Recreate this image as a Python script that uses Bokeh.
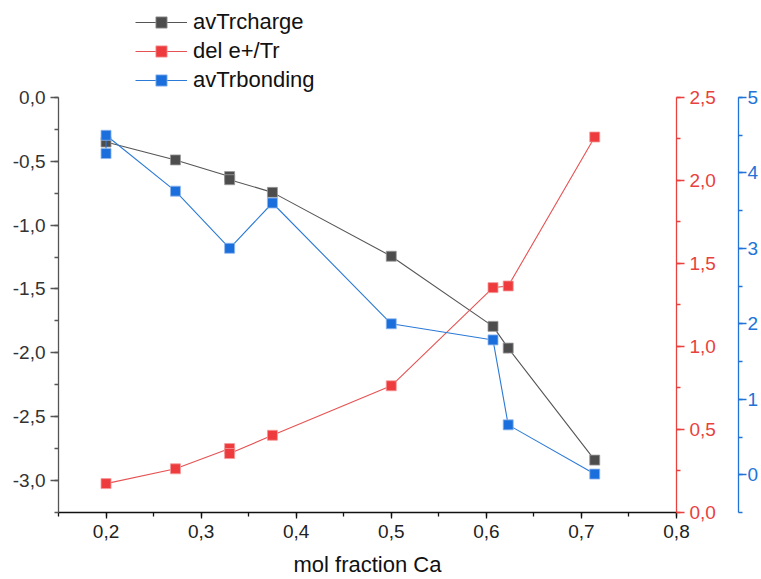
from bokeh.plotting import figure
from bokeh.models import (Range1d, LinearAxis, SingleIntervalTicker, CustomJSTickFormatter,
                          Legend, LegendItem)
from bokeh.embed import file_html
from bokeh.resources import INLINE

# ---- data ----
x_charge = [0.2, 0.273, 0.33, 0.33, 0.375, 0.5, 0.607, 0.623, 0.714]
avTrcharge = [-0.35, -0.49, -0.62, -0.645, -0.744, -1.244, -1.793, -1.963, -2.84]

x_dele = [0.2, 0.273, 0.33, 0.33, 0.375, 0.5, 0.607, 0.623, 0.714]
del_e_Tr = [0.174, 0.263, 0.385, 0.355, 0.465, 0.763, 1.354, 1.364, 2.261]

x_bond = [0.2, 0.2, 0.273, 0.33, 0.375, 0.5, 0.607, 0.623, 0.714]
avTrbonding = [4.255, 4.497, 3.757, 3.0, 3.60, 2.0, 1.786, 0.661, 0.009]

x_label = "mol fraction Ca"
names = ["avTrcharge", "del e+/Tr", "avTrbonding"]

# axis extents (the axes are drawn only over these bounds)
left_bounds = (-3.25, 0.0)
red_bounds = (0.0, 2.5)
blue_bounds = (-0.5, 5.0)

FONT = "Liberation Sans"
C_BLACK = "#4d4d4d"
C_RED = "#ee3b3d"
C_BLUE = "#1b6fdc"
C_RED_AX = "#e8413e"
C_BLUE_AX = "#2173d6"

# frame spans canvas y 5..513; axes occupy 97..513 (room above for the legend)
FRAME_TOP, AXIS_TOP, FRAME_BOTTOM = 5, 97, 513
ext = (FRAME_BOTTOM - FRAME_TOP) / (FRAME_BOTTOM - AXIS_TOP)


def extended(b):
    return Range1d(b[0], b[0] + (b[1] - b[0]) * ext)


p = figure(width=761, height=579, output_backend="svg", toolbar_location=None,
           x_range=Range1d(0.15, 0.8), y_range=extended(left_bounds),
           min_border_left=58, min_border_top=FRAME_TOP, min_border_bottom=66, min_border_right=5)
p.extra_y_ranges = {"red": extended(red_bounds), "blue": extended(blue_bounds)}
p.xgrid.visible = False
p.ygrid.visible = False
p.outline_line_color = None
p.background_fill_color = "white"

comma1 = CustomJSTickFormatter(code="return tick.toFixed(1).replace('.', ',');")
comma0 = CustomJSTickFormatter(code="return tick.toFixed(0);")


def style_axis(ax, color, label_color):
    ax.axis_line_color = color
    ax.major_tick_line_color = color
    ax.minor_tick_line_color = color
    ax.major_label_text_color = label_color
    ax.major_label_text_font = FONT
    ax.major_label_text_font_size = "19px"
    ax.major_tick_out = 8
    ax.major_tick_in = 0
    ax.minor_tick_out = 4
    ax.minor_tick_in = 0
    ax.axis_line_width = 1.3
    ax.major_tick_line_width = 1.3
    ax.minor_tick_line_width = 1.3
    ax.major_label_standoff = 5


# x axis
xa = p.xaxis[0]
xa.ticker = SingleIntervalTicker(interval=0.1, num_minor_ticks=2)
xa.formatter = comma1
style_axis(xa, "#111111", "#222222")
xa.major_tick_out = 6
xa.major_label_standoff = 6
xa.axis_label = x_label
xa.axis_label_text_font = FONT
xa.axis_label_text_font_style = "normal"
xa.axis_label_text_font_size = "22px"
xa.axis_label_text_color = "#111111"
xa.axis_label_standoff = 11

# left axis
ya = p.yaxis[0]
ya.ticker = SingleIntervalTicker(interval=0.5, num_minor_ticks=2)
ya.formatter = comma1
ya.bounds = left_bounds
style_axis(ya, "#555555", "#333333")

# red right axis
ra = LinearAxis(y_range_name="red", ticker=SingleIntervalTicker(interval=0.5, num_minor_ticks=2),
                formatter=comma1, bounds=red_bounds)
style_axis(ra, C_RED_AX, C_RED_AX)
ra.axis_label = " "
ra.axis_label_text_font_size = "16px"
ra.axis_label_standoff = 0
p.add_layout(ra, "right")

# blue right axis
ba = LinearAxis(y_range_name="blue", ticker=SingleIntervalTicker(interval=1, num_minor_ticks=2),
                formatter=comma0, bounds=blue_bounds)
style_axis(ba, C_BLUE_AX, C_BLUE_AX)
ba.major_label_standoff = 1
p.add_layout(ba, "right")

# series
l1 = p.line(x_charge, avTrcharge, line_color="#555555", line_width=1.1)
s1 = p.scatter(x_charge, avTrcharge, marker="square", size=10, fill_color=C_BLACK,
               line_color="#9a9a9a", line_width=0.8)

l2 = p.line(x_dele, del_e_Tr, line_color="#e65253", line_width=1.1, y_range_name="red")
s2 = p.scatter(x_dele, del_e_Tr, marker="square", size=10, fill_color=C_RED,
               line_color="#f59a9a", line_width=0.8, y_range_name="red")

l3 = p.line(x_bond, avTrbonding, line_color="#2b7ad6", line_width=1.1, y_range_name="blue")
s3 = p.scatter(x_bond, avTrbonding, marker="square", size=10, fill_color=C_BLUE,
               line_color="#8fb8ee", line_width=0.8, y_range_name="blue")

legend = Legend(items=[LegendItem(label=names[0], renderers=[l1, s1]),
                       LegendItem(label=names[1], renderers=[l2, s2]),
                       LegendItem(label=names[2], renderers=[l3, s3])],
                location=(77, 418))
legend.border_line_color = None
legend.background_fill_alpha = 0
legend.padding = 0
legend.margin = 0
legend.spacing = 1
legend.label_height = 28
legend.glyph_height = 28
legend.glyph_width = 52
legend.label_standoff = 6
legend.label_text_font = FONT
legend.label_text_font_size = "22px"
legend.label_text_color = "#111111"
p.add_layout(legend, "center")

open("out.html", "w").write(file_html(p, INLINE))
